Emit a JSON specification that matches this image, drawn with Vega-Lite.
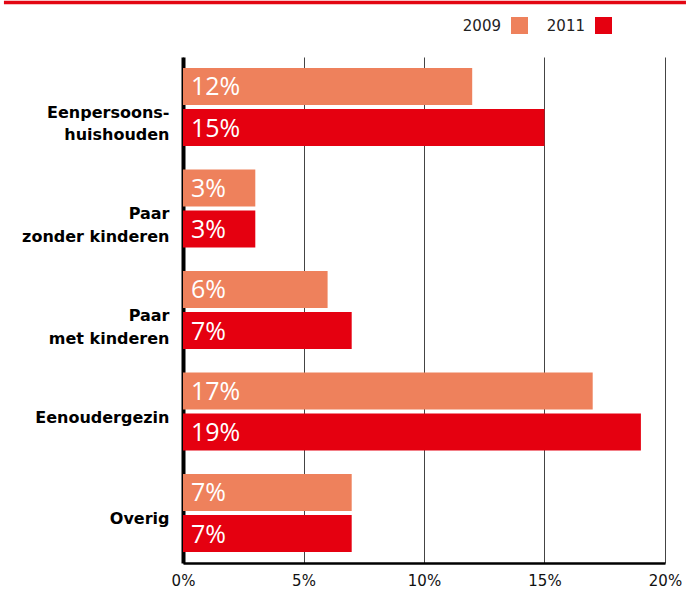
{
  "$schema": "https://vega.github.io/schema/vega-lite/v6.json",
  "width": 482,
  "height": 506,
  "autosize": {"type": "none"},
  "padding": {"left": 183, "top": 57, "right": 21, "bottom": 27},
  "background": "white",
  "config": {
    "view": {"stroke": null},
    "font": "DejaVu Sans"
  },
  "layer": [
    {
      "data": {
        "values": [
          {"cat": "Eenpersoons-|huishouden", "year": "2009", "v": 0.12},
          {"cat": "Eenpersoons-|huishouden", "year": "2011", "v": 0.15},
          {"cat": "Paar|zonder kinderen", "year": "2009", "v": 0.03},
          {"cat": "Paar|zonder kinderen", "year": "2011", "v": 0.03},
          {"cat": "Paar|met kinderen", "year": "2009", "v": 0.06},
          {"cat": "Paar|met kinderen", "year": "2011", "v": 0.07},
          {"cat": "Eenoudergezin", "year": "2009", "v": 0.17},
          {"cat": "Eenoudergezin", "year": "2011", "v": 0.19},
          {"cat": "Overig", "year": "2009", "v": 0.07},
          {"cat": "Overig", "year": "2011", "v": 0.07}
        ]
      },
      "encoding": {
        "y": {
          "field": "cat",
          "type": "nominal",
          "sort": ["Eenpersoons-|huishouden", "Paar|zonder kinderen", "Paar|met kinderen", "Eenoudergezin", "Overig"],
          "scale": {"paddingInner": 0.232, "paddingOuter": 0.1085},
          "axis": {
            "title": null,
            "ticks": false,
            "domain": true,
            "domainColor": "#000000",
            "domainWidth": 4,
            "labelExpr": "split(datum.label, '|')",
            "labelFont": "DejaVu Sans",
            "labelFontWeight": "bold",
            "labelFontSize": 16,
            "labelColor": "#000000",
            "labelPadding": 14,
            "labelBaseline": "top",
            "labelOffset": -2,
            "labelLineHeight": 22.5,
            "labelLimit": 200
          }
        },
        "yOffset": {
          "field": "year",
          "type": "nominal",
          "scale": {"paddingInner": 0.1, "paddingOuter": 0}
        }
      },
      "layer": [
        {
          "mark": {"type": "bar"},
          "encoding": {
            "x": {
              "field": "v",
              "type": "quantitative",
              "scale": {"domain": [0, 0.2], "nice": false},
              "axis": {
                "title": null,
                "values": [0, 0.05, 0.1, 0.15, 0.2],
                "format": ".0%",
                "ticks": false,
                "grid": true,
                "gridColor": "#444444",
                "gridWidth": 1,
                "domain": true,
                "domainColor": "#000000",
                "domainWidth": 2.5,
                "labelFont": "DejaVu Sans",
                "labelFontSize": 15,
                "labelColor": "#111111",
                "labelPadding": 10,
                "labelFlush": false
              }
            },
            "color": {
              "field": "year",
              "type": "nominal",
              "scale": {"domain": ["2009", "2011"], "range": ["#ee815c", "#e50010"]},
              "legend": {
                "orient": "none",
                "legendX": 328,
                "legendY": -40,
                "direction": "horizontal",
                "title": null,
                "symbolType": "square",
                "symbolSize": 289,
                "symbolStrokeWidth": 0,
                "labelAlign": "right",
                "labelOffset": -27,
                "columnPadding": 18,
                "labelFont": "DejaVu Sans",
                "labelFontSize": 15,
                "labelColor": "#222222"
              }
            }
          }
        },
        {
          "mark": {"type": "text", "align": "left", "baseline": "middle", "dx": 8, "dy": 1, "color": "white", "font": "Open Sans", "fontSize": 25},
          "encoding": {
            "x": {"datum": 0, "type": "quantitative"},
            "text": {"field": "v", "type": "quantitative", "format": ".0%"}
          }
        }
      ]
    },
    {
      "data": {"values": [{"line": "top"}]},
      "mark": {"type": "rule", "color": "#e30613", "strokeWidth": 3.4},
      "encoding": {
        "x": {"datum": -0.0743, "type": "quantitative", "scale": {"domain": [0, 0.2], "nice": false}},
        "x2": {"datum": 0.2087},
        "y": {"datum": 1.1077, "type": "quantitative", "scale": {"domain": [0, 1]}, "axis": null}
      }
    }
  ],
  "resolve": {"scale": {"y": "independent"}, "axis": {"y": "independent"}}
}
